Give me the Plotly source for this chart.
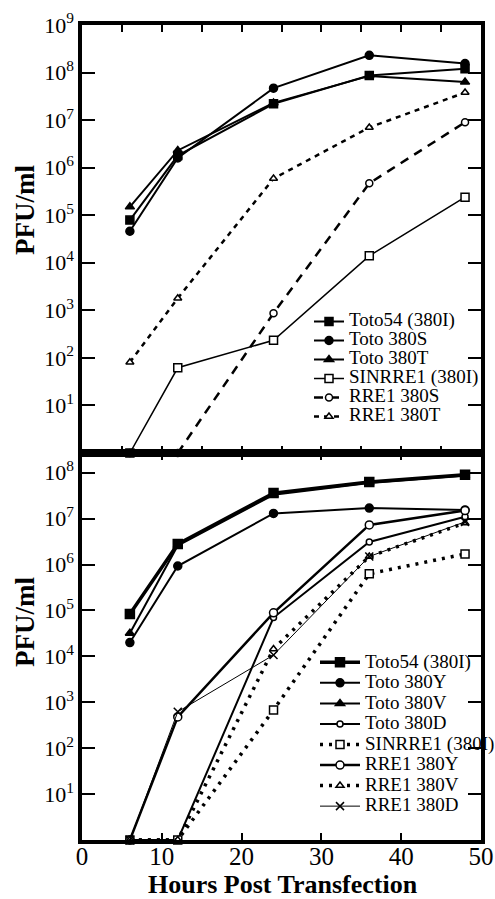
import plotly.graph_objects as go

# ---------------- data ----------------
hours = [6, 12, 24, 36, 48]

# top panel (PFU/ml)
top_names = ["Toto54 (380I)", "Toto 380S", "Toto 380T",
             "SINRRE1 (380I)", "RRE1 380S", "RRE1 380T"]
top_toto54 = [7.9e4, 1.8e6, 2.2e7, 8.7e7, 1.2e8]
top_toto380S = [4.6e4, 1.6e6, 4.7e7, 2.3e8, 1.55e8]
top_toto380T = [1.5e5, 2.3e6, 2.3e7, 8.5e7, 6.3e7]
top_sinrre1 = [1, 62, 235, 1.4e4, 2.4e5]
top_rre1_380S = [1, 1, 870, 4.7e5, 9.0e6]
top_rre1_380T = [81, 1.8e3, 5.9e5, 7.0e6, 3.8e7]

# bottom panel (PFU/ml)
bot_names = ["Toto54 (380I)", "Toto 380Y", "Toto 380V", "Toto 380D",
             "SINRRE1 (380I)", "RRE1 380Y", "RRE1 380V", "RRE1 380D"]
bot_toto54 = [8.4e4, 2.8e6, 3.6e7, 6.3e7, 9.0e7]
bot_toto380Y = [2.0e4, 9.3e5, 1.3e7, 1.7e7, 1.55e7]
bot_toto380V = [3.2e4, 2.6e6, 3.3e7, 6.0e7, 8.6e7]
bot_toto380D = [1, 1, 7.0e4, 3.1e6, 1.1e7]
bot_sinrre1 = [1, 1, 680, 6.3e5, 1.7e6]
bot_rre1_380Y = [1, 480, 8.9e4, 7.3e6, 1.5e7]
bot_rre1_380V = [1, 1, 1.45e4, 1.5e6, 8.0e6]
bot_rre1_380D = [1, 620, 1.07e4, 1.5e6, 8.5e6]

ytick_vals = [10, 1e2, 1e3, 1e4, 1e5, 1e6, 1e7, 1e8, 1e9]
ytick_text = ["10<sup>%d</sup>" % i for i in range(1, 10)]
xtick_vals = [0, 10, 20, 30, 40, 50]

SERIF = "Liberation Serif, Times New Roman, serif"
LEG_SPAN = "<span style='font-size:19px'>%s</span>"

fig = go.Figure()


def add(x, y, name, symbol, fill, lw, dash, size, xa, ya, legend, mlw=1.5):
    fig.add_trace(go.Scatter(
        x=x, y=y, name=LEG_SPAN % name, mode="lines+markers",
        xaxis=xa, yaxis=ya, legend=legend, cliponaxis=False,
        line=dict(color="black", width=lw, dash=dash),
        marker=dict(symbol=symbol, size=size, color=fill,
                    line=dict(color="black", width=mlw)),
    ))


# top panel traces
add(hours, top_toto54, top_names[0], "square", "black", 2, "solid", 8, "x", "y", "legend")
add(hours, top_toto380S, top_names[1], "circle", "black", 2, "solid", 8, "x", "y", "legend")
add(hours, top_toto380T, top_names[2], "triangle-up", "black", 2, "solid", 8, "x", "y", "legend")
add(hours, top_sinrre1, top_names[3], "square", "white", 1.5, "solid", 8, "x", "y", "legend")
add(hours, top_rre1_380S, top_names[4], "circle", "white", 2.5, "9px,7px", 7, "x", "y", "legend")
add(hours, top_rre1_380T, top_names[5], "triangle-up", "white", 2.5, "5px,5px", 7, "x", "y", "legend")

# bottom panel traces
add(hours, bot_toto54, bot_names[0], "square", "black", 3.5, "solid", 9, "x2", "y2", "legend2")
add(hours, bot_toto380Y, bot_names[1], "circle", "black", 2, "solid", 8, "x2", "y2", "legend2")
add(hours, bot_toto380V, bot_names[2], "triangle-up", "black", 2, "solid", 8, "x2", "y2", "legend2")
add(hours, bot_toto380D, bot_names[3], "circle", "white", 2, "solid", 6, "x2", "y2", "legend2")
add(hours, bot_sinrre1, bot_names[4], "square", "white", 3.5, "3px,6px", 8, "x2", "y2", "legend2")
add(hours, bot_rre1_380Y, bot_names[5], "circle", "white", 2.5, "solid", 8, "x2", "y2", "legend2")
add(hours, bot_rre1_380V, bot_names[6], "triangle-up", "white", 3.5, "3px,6px", 7, "x2", "y2", "legend2")
add(hours, bot_rre1_380D, bot_names[7], "x-thin", "black", 1, "solid", 8, "x2", "y2", "legend2")

W, H = 495, 899
x0, x1 = 82 / W, 481 / W
y_top = (1 - 453 / H, 1 - 25 / H)
y_bot = (1 - 840 / H, 1 - 453 / H)

common_x = dict(range=[0, 50], dtick=5, tick0=0, ticks="inside", ticklen=7,
                tickwidth=1.5, tickcolor="black", showline=True, linewidth=3.5,
                linecolor="black", mirror="ticks", showgrid=False, zeroline=False,
                domain=[x0, x1], automargin=False)
common_y = dict(type="log", tickvals=ytick_vals, ticktext=ytick_text,
                ticks="inside", ticklen=13, tickwidth=1.5, tickcolor="black",
                showline=True, linewidth=3.5, linecolor="black", mirror="ticks",
                showgrid=False, zeroline=False, automargin=False,
                tickfont=dict(family=SERIF, size=22, color="black"))

legend_common = dict(bgcolor="rgba(0,0,0,0)", borderwidth=0,
                     xanchor="left", yanchor="top", traceorder="normal")

fig.update_layout(
    width=W, height=H,
    margin=dict(l=0, r=0, t=0, b=0, pad=0, autoexpand=False),
    paper_bgcolor="white", plot_bgcolor="white",
    font=dict(family=SERIF, color="black"),
    xaxis=dict(common_x, anchor="y", showticklabels=False),
    xaxis2=dict(common_x, anchor="y2", showticklabels=True, tickvals=xtick_vals,
                ticklabelstandoff=-9,
                tickfont=dict(family=SERIF, size=25, color="black")),
    yaxis=dict(common_y, anchor="x", range=[0, 9], domain=list(y_top)),
    yaxis2=dict(common_y, anchor="x2", range=[0, 8.43], domain=list(y_bot)),
    legend=dict(legend_common, x=309 / W, y=1 - 307 / H, itemwidth=30,
                font=dict(family=SERIF, size=12, color="black")),
    legend2=dict(legend_common, x=315 / W, y=1 - 647 / H, itemwidth=40,
                 font=dict(family=SERIF, size=13.5, color="black")),
    showlegend=True,
    annotations=[
        dict(text="<b>PFU/ml</b>", x=25 / W, y=1 - 210 / H, xref="paper", yref="paper",
             xanchor="center", yanchor="middle",
             textangle=-90, showarrow=False, font=dict(family=SERIF, size=27)),
        dict(text="<b>PFU/ml</b>", x=25 / W, y=1 - 622 / H, xref="paper", yref="paper",
             xanchor="center", yanchor="middle",
             textangle=-90, showarrow=False, font=dict(family=SERIF, size=27)),
        dict(text="<b>Hours Post Transfection</b>", x=283 / W, y=1 - 884 / H,
             xref="paper", yref="paper", showarrow=False,
             xanchor="center", yanchor="middle",
             font=dict(family=SERIF, size=26)),
    ],
)

fig.write_html("out.html", config={"displayModeBar": False},
               post_script="document.body.style.margin='0';document.body.style.padding='0';")
